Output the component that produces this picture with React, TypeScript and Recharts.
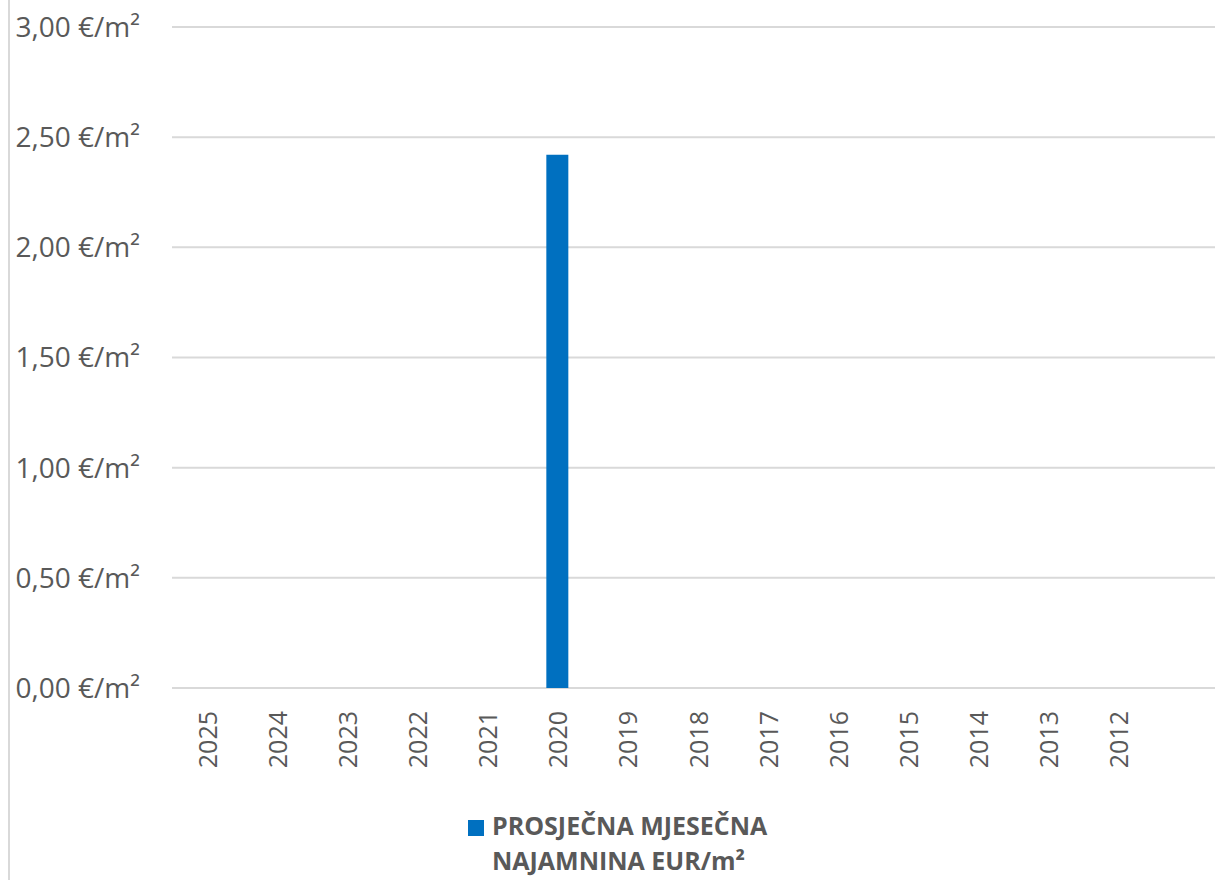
import { BarChart, Bar, XAxis, YAxis, CartesianGrid, Legend } from "recharts";

const years = [
  "2025", "2024", "2023", "2022", "2021", "2020", "2019",
  "2018", "2017", "2016", "2015", "2014", "2013", "2012", "",
];
const rent = [
  null, null, null, null, null, 2.42, null,
  null, null, null, null, null, null, null, null,
];
const yTicks = [0, 0.5, 1, 1.5, 2, 2.5, 3];
const seriesName = "PROSJEČNA MJESEČNA NAJAMNINA EUR/m²";

const FONT = "'Open Sans', sans-serif";
const TEXT = "#595959";

const data = years.map((year, i) => ({ year, value: rent[i] }));

const formatEur = (v: number) => `${v.toFixed(2).replace(".", ",")} €/m²`;

function YearTick(props: any) {
  const { x, y, payload } = props;
  return (
    <text
      x={x}
      y={y + 15}
      transform={`rotate(-90, ${x}, ${y + 15})`}
      textAnchor="end"
      dominantBaseline="central"
      fill={TEXT}
      fontSize={25}
      fontFamily={FONT}
    >
      {payload.value}
    </text>
  );
}

function LegendBox() {
  return (
    <div
      style={{
        height: 92,
        width: 1215,
        position: "relative",
        fontFamily: FONT,
        color: TEXT,
      }}
    >
      <div
        style={{
          position: "absolute",
          left: 468,
          top: 32,
          width: 16,
          height: 16,
          background: "#0070C0",
        }}
      />
      <div
        style={{
          position: "absolute",
          left: 492,
          top: 20,
          width: 300,
          fontSize: 25,
          fontWeight: 700,
          lineHeight: "35px",
        }}
      >
        PROSJEČNA MJESEČNA
        <br />
        NAJAMNINA EUR/m²
      </div>
    </div>
  );
}

export default function App() {
  return (
    <div
      style={{
        position: "fixed",
        left: 0,
        top: 0,
        width: 1215,
        height: 880,
        overflow: "hidden",
        background: "#fff",
      }}
    >
      <div
        style={{
          position: "absolute",
          left: 8,
          top: 0,
          width: 2,
          height: 880,
          background: "#d9d9d9",
        }}
      />
      <BarChart
        width={1223}
        height={880}
        data={data}
        margin={{ top: 27, right: 0, bottom: 0, left: 0 }}
        barSize={22}
      >
        <CartesianGrid vertical={false} stroke="#d9d9d9" strokeWidth={2} />
        <XAxis
          dataKey="year"
          axisLine={false}
          tickLine={false}
          height={100}
          interval={0}
          tick={<YearTick />}
        />
        <YAxis
          width={172}
          domain={[0, 3]}
          ticks={yTicks}
          axisLine={false}
          tickLine={false}
          tickSize={0}
          tickMargin={32}
          tickFormatter={formatEur}
          tick={{ fill: TEXT, fontSize: 28, fontFamily: FONT }}
        />
        <Legend verticalAlign="bottom" align="left" content={<LegendBox />} />
        <Bar
          dataKey="value"
          name={seriesName}
          fill="#0070C0"
          isAnimationActive={false}
        />
      </BarChart>
    </div>
  );
}
